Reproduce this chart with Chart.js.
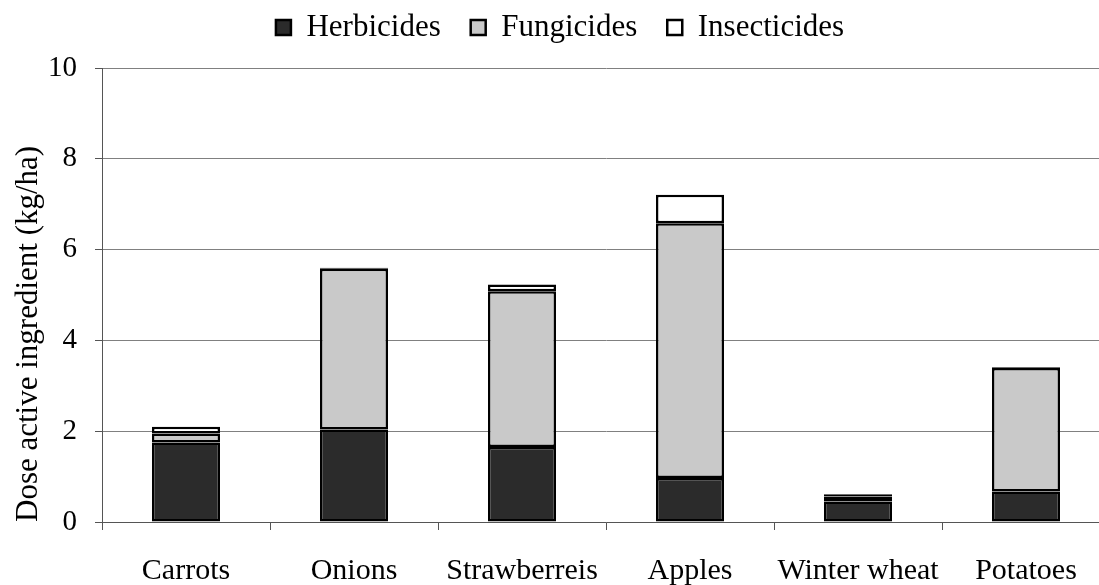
<!DOCTYPE html>
<html>
<head>
<meta charset="utf-8">
<script src="https://cdn.jsdelivr.net/npm/chart.js@4/dist/chart.umd.min.js"></script>
<style>
  html, body { margin: 0; padding: 0; background: #fff; overflow: hidden; }
  #wrap { width: 1120px; height: 585px; position: relative; }
</style>
</head>
<body>
<div id="wrap"><canvas id="chart"></canvas></div>
<script>
const crops = ['Carrots', 'Onions', 'Strawberreis', 'Apples', 'Winter wheat', 'Potatoes'];
const herbicides = [1.75, 2.04, 1.65, 0.97, 0.45, 0.67];
const fungicides = [0.20, 3.54, 3.43, 5.61, 0.11, 2.72];
const insecticides = [0.15, 0.02, 0.15, 0.63, 0.05, 0.02];
const yTicks = [0, 2, 4, 6, 8, 10];

const serif = 'Liberation Serif';

const bar = (label, data, color) => ({
    label,
    data,
    backgroundColor: color,
    borderColor: '#000',
    borderWidth: 2.5,
    borderSkipped: false,
    barPercentage: 0.405,
    categoryPercentage: 1
});

// push the plot area down a bit below the legend row
const legendGap = {
    id: 'legendGap',
    beforeInit(chart) {
        const fit = chart.legend.fit;
        chart.legend.fit = function () {
            fit.call(this);
            this.height += 15;
        };
    }
};

new Chart(document.getElementById('chart'), {
    type: 'bar',
    data: {
        labels: crops,
        datasets: [
            bar('Herbicides', herbicides, '#2b2b2b'),
            bar('Fungicides', fungicides, '#c9c9c9'),
            bar('Insecticides', insecticides, '#ffffff')
        ]
    },
    plugins: [legendGap],
    options: {
        responsive: true,
        maintainAspectRatio: false,
        animation: false,
        layout: { padding: { top: -18, right: 10, bottom: 0, left: 10 } },
        plugins: {
            legend: {
                position: 'top',
                labels: {
                    color: '#000',
                    font: { family: serif, size: 31 },
                    boxWidth: 15,
                    boxHeight: 15,
                    padding: 30
                }
            },
            tooltip: { enabled: false }
        },
        scales: {
            x: {
                stacked: true,
                offset: true,
                afterFit: (axis) => { axis.height = 63; },
                grid: {
                    offset: true,
                    drawOnChartArea: false,
                    drawTicks: true,
                    tickLength: 8,
                    color: '#555'
                },
                border: { color: '#555', width: 1 },
                ticks: {
                    color: '#000',
                    font: { family: serif, size: 30, lineHeight: 1.1 },
                    padding: 25,
                    maxRotation: 0,
                    autoSkip: false
                }
            },
            y: {
                stacked: true,
                min: 0,
                max: 10,
                afterFit: (axis) => { axis.width = 92; },
                afterBuildTicks: (axis) => { axis.ticks = yTicks.map(v => ({ value: v })); },
                grid: {
                    color: '#808080',
                    tickColor: '#555',
                    tickLength: 7
                },
                border: { color: '#555', width: 1 },
                ticks: {
                    color: '#000',
                    font: { family: serif, size: 29 },
                    padding: 18
                },
                title: {
                    display: true,
                    align: 'start',
                    text: 'Dose active ingredient (kg/ha)',
                    color: '#000',
                    font: { family: serif, size: 31 },
                    padding: { top: 0, bottom: 0 }
                }
            }
        }
    }
});
</script>
</body>
</html>
